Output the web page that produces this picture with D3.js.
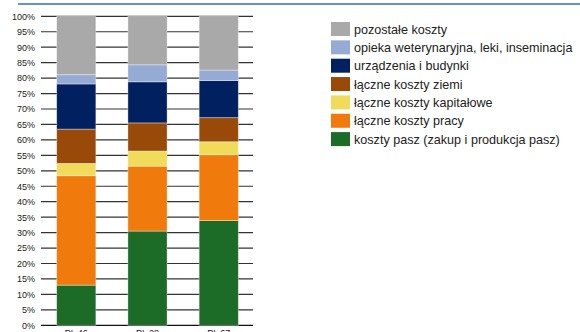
<!DOCTYPE html>
<html lang="pl">
<head>
<meta charset="UTF-8">
<title>Struktura kosztów</title>
<script src="https://d3js.org/d3.v7.min.js"></script>
<style>
  body { margin: 0; background: #fff; }
  svg text { font-family: "Liberation Sans", Arial, sans-serif; fill: #222; }
</style>
</head>
<body>
<div id="chart"></div>
<script>
// dane
const categories = ["PL 46", "PL 28", "PL 67"];
const seriesNames = [
  "koszty pasz (zakup i produkcja pasz)",
  "łączne koszty pracy",
  "łączne koszty kapitałowe",
  "łączne koszty ziemi",
  "urządzenia i budynki",
  "opieka weterynaryjna, leki, inseminacja",
  "pozostałe koszty"
];
const seriesColors = ["#1c6b27", "#f07a0c", "#f0dc5a", "#994a08", "#002060", "#95abd4", "#a9a9a9"];
// udział procentowy dla PL 46, PL 28, PL 67
const feed     = [13.0, 30.5, 33.9];
const labour   = [35.4, 21.0, 21.3];
const capital  = [4.0, 4.9, 4.2];
const land     = [11.1, 9.1, 7.8];
const machines = [14.6, 13.3, 12.0];
const vet      = [3.0, 5.5, 3.4];
const other    = [18.9, 15.7, 17.4];
const yTicks = d3.range(0, 101, 5);

const seriesValues = [feed, labour, capital, land, machines, vet, other];
const table = categories.map((c, i) => {
  const row = { cat: c };
  seriesNames.forEach((s, j) => row[s] = seriesValues[j][i]);
  return row;
});

const width = 580, height = 332;
const svg = d3.select("#chart").append("svg")
  .attr("width", width)
  .attr("height", height);

// linia u góry
svg.append("line")
  .attr("x1", 18).attr("x2", width)
  .attr("y1", 4).attr("y2", 4)
  .attr("stroke", "#2a72aa")
  .attr("stroke-width", 1.5);

const plot = { left: 41, right: 253, top: 16.3, bottom: 325.3 };

const x = d3.scaleBand()
  .domain(categories)
  .range([plot.left, plot.right + 1])
  .paddingInner(0.45)
  .paddingOuter(0.22);

const y = d3.scaleLinear()
  .domain([0, 100])
  .range([plot.bottom, plot.top]);

// siatka
svg.append("g")
  .selectAll("line")
  .data(yTicks)
  .join("line")
  .attr("x1", plot.left).attr("x2", plot.right)
  .attr("y1", d => y(d)).attr("y2", d => y(d))
  .attr("stroke", d => d === 0 ? "#111" : "#333")
  .attr("stroke-width", 1.2);

const yAxis = svg.append("g")
  .attr("transform", `translate(${plot.left},0)`)
  .call(d3.axisLeft(y).tickValues(yTicks).tickFormat(d => d + "%").tickSize(0).tickPadding(6));
yAxis.select(".domain").remove();
yAxis.selectAll("text")
  .style("font-size", "9px")
  .style("font-family", "Liberation Sans, Arial, sans-serif")
  .attr("fill", "#222");

const stack = d3.stack().keys(seriesNames);
const layers = stack(table);

svg.append("g")
  .selectAll("g")
  .data(layers)
  .join("g")
  .attr("fill", (d, i) => seriesColors[i])
  .selectAll("rect")
  .data(d => d)
  .join("rect")
  .attr("x", d => x(d.data.cat))
  .attr("width", x.bandwidth())
  .attr("y", d => y(d[1]))
  .attr("height", d => y(d[0]) - y(d[1]))
  .attr("stroke", "rgba(255,255,255,0.45)")
  .attr("stroke-width", 0.8);

const xAxis = svg.append("g")
  .attr("transform", `translate(0,${plot.bottom})`)
  .call(d3.axisBottom(x).tickSize(0).tickPadding(4));
xAxis.select(".domain").remove();
xAxis.selectAll("text")
  .style("font-size", "9px")
  .style("font-family", "Liberation Sans, Arial, sans-serif")
  .attr("fill", "#222");

// legenda (od góry: pozostałe koszty)
const legendItems = seriesNames.map((s, i) => ({ name: s, color: seriesColors[i] })).reverse();
const legend = svg.append("g").attr("transform", "translate(331,22)");
const li = legend.selectAll("g")
  .data(legendItems)
  .join("g")
  .attr("transform", (d, i) => `translate(0,${i * 18.35})`);
li.append("rect")
  .attr("width", 19).attr("height", 14)
  .attr("fill", d => d.color);
li.append("text")
  .attr("x", 23).attr("y", 7)
  .attr("dy", "0.36em")
  .style("font-size", "12.6px")
  .text(d => d.name);
</script>
</body>
</html>
